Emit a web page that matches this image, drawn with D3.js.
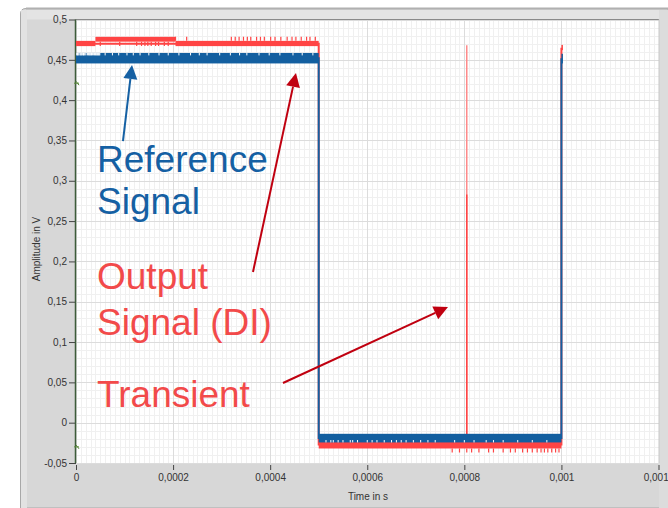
<!DOCTYPE html>
<html><head><meta charset="utf-8">
<script src="https://cdn.jsdelivr.net/npm/d3@7"></script>
<style>html,body{margin:0;padding:0;background:#fff;}svg{display:block;}</style>
</head><body>
<svg id="chart" width="668" height="508"></svg>
<script>
// ---- axis ticks ----
const xTicks = [0, 0.0002, 0.0004, 0.0006, 0.0008, 0.001, 0.0012];
const xTickLabels = ["0", "0,0002", "0,0004", "0,0006", "0,0008", "0,001", "0,0012"];
const yTicks = [-0.05, 0, 0.05, 0.1, 0.15, 0.2, 0.25, 0.3, 0.35, 0.4, 0.45, 0.5];
const yTickLabels = ["-0,05", "0", "0,05", "0,1", "0,15", "0,2", "0,25", "0,3", "0,35", "0,4", "0,45", "0,5"];

// ---- Reference signal (blue) ----
const refTime  = [0, 0.0005, 0.0005, 0.001, 0.001];
const refValue = [0.452, 0.452, -0.019, -0.019, 0.452];
const refBandStart = [0, 0.0005, 0.001];
const refBandEnd   = [0.0005, 0.001, 0.0010025];
const refBandLow   = [0.4455, -0.0245, 0.4455];
const refBandHigh  = [0.4585, -0.0138, 0.4575];
const refTopNotchTime = [1.5e-6, 3e-6, 4.2e-6, 6e-6, 8.5e-6, 10e-6, 11.8e-6, 13e-6, 15.5e-6, 16.2e-6, 18e-6, 20.4e-6, 23.5e-6, 26e-6, 27.3e-6, 29e-6, 30.5e-6, 32e-6, 33.8e-6, 36.4e-6, 38e-6, 40e-6, 41.5e-6, 43e-6, 44.6e-6, 46e-6, 47.5e-6, 49e-6,
  60e-6, 75e-6, 88e-6, 105e-6, 118e-6, 132e-6, 150e-6, 171e-6, 190e-6, 212e-6, 236e-6, 254e-6, 270e-6, 296e-6, 318e-6, 337e-6, 352e-6, 377e-6, 398e-6, 420e-6, 447e-6, 466e-6, 488e-6];
const refLowNotchTime = [515e-6, 525e-6, 530e-6, 540e-6, 550e-6, 565e-6, 570e-6, 580e-6, 600e-6, 610e-6, 620e-6, 635e-6, 650e-6, 660e-6, 670e-6, 680e-6, 695e-6, 710e-6, 725e-6, 740e-6, 780e-6, 800e-6, 820e-6, 845e-6, 860e-6, 880e-6, 910e-6, 940e-6, 970e-6];

// ---- Output signal DI (red) ----
const outTime  = [0, 0.0005, 0.0005, 0.001, 0.001];
const outValue = [0.47, 0.47, -0.027, -0.027, 0.465];
const outBandStart = [0, 0.00004, 0.000205, 0.0005, 0.001];
const outBandEnd   = [0.00004, 0.000205, 0.0005, 0.001, 0.0010015];
const outBandLow   = [0.467, 0.4725, 0.467, -0.032, 0.462];
const outBandHigh  = [0.4735, 0.4785, 0.4735, -0.022, 0.4685];
const outUpSpikeTime = [205e-6, 228e-6, 320e-6, 328e-6, 336e-6, 345e-6, 353e-6, 360e-6, 372e-6, 380e-6, 388e-6, 401e-6, 410e-6, 422e-6, 435e-6, 445e-6, 453e-6, 464e-6, 475e-6, 482e-6, 493e-6];
const outUpSpikeValue = 0.4785;
const outMidSpikeTime = [50e-6, 90e-6, 125e-6, 135e-6, 142e-6, 148e-6, 155e-6, 164e-6, 170e-6, 182e-6, 190e-6];
const outMidSpikeValue = 0.467;
const outLowSpikeTime = [775e-6, 790e-6, 805e-6, 815e-6, 830e-6, 850e-6, 860e-6, 880e-6, 895e-6, 905e-6, 920e-6, 930e-6, 940e-6, 950e-6, 958e-6, 965e-6, 972e-6, 980e-6, 988e-6, 995e-6];
const outLowSpikeValue = -0.037;

// ---- Transient ----
const transientTime = [0.000805];
const transientPeak = [0.468];
const transientSolidTop = [0.283];
const transientBase = [-0.022];

// ---- cursor markers at x=0 ----
const cursorValues = [0.421, -0.03];

// ---- annotations (data coordinates) ----
const labelTexts  = ["Reference", "Signal", "Output", "Signal (DI)", "Transient"];
const labelColors = ["#1560a3", "#1560a3", "#f24a4a", "#f24a4a", "#f24a4a"];
const labelTime   = [0.0000433, 0.0000433, 0.0000433, 0.0000433, 0.0000433];
const labelValue  = [0.311, 0.2588, 0.1658, 0.1087, 0.0194];
const arrowFromT = [0.0000968, 0.0003646, 0.0004264];
const arrowFromV = [0.3493, 0.1869, 0.0492];
const arrowToT   = [0.0001154, 0.0004532, 0.0007663];
const arrowToV   = [0.4436, 0.4337, 0.1435];
const arrowColors = ["#1560a3", "#c00010", "#c00010"];

const svg = d3.select("#chart");
const W = 668, H = 508;
const x = d3.scaleLinear().domain([0, 0.0012]).range([76, 658.5]);
const y = d3.scaleLinear().domain([-0.05, 0.5]).range([463, 19.5]);
const plotL = 76, plotR = 659, plotT = 19.5, plotB = 463;

// page frame / panel
svg.append("rect").attr("x", 0).attr("y", 0).attr("width", W).attr("height", H).attr("fill", "#fff");
svg.append("path")
  .attr("d", `M20.5,${H} L20.5,14 Q20.5,8.5 26,8.5 L${W},8.5 L${W},${H} Z`)
  .attr("fill", "#d7d7d7").attr("stroke", "#a8a8a8");
svg.append("rect").attr("x", 21).attr("y", 10).attr("width", W - 21).attr("height", 9.5).attr("fill", "#e4e4e4");
svg.append("line").attr("x1", 26).attr("x2", W).attr("y1", 8.5).attr("y2", 8.5).attr("stroke", "#b0b0b0").attr("stroke-width", 2);
svg.append("rect").attr("x", 21).attr("y", 10).attr("width", 6).attr("height", H - 10).attr("fill", "#e2e2e2");
svg.append("rect").attr("x", plotR).attr("y", 10).attr("width", W - plotR).attr("height", H - 10).attr("fill", "#dcdcdc");

// plot area
svg.append("rect").attr("x", plotL).attr("y", plotT).attr("width", plotR - plotL).attr("height", plotB - plotT).attr("fill", "#fff");

const grid = svg.append("g");
// minor grid
d3.range(0, 121).forEach(i => {
  const xx = Math.round(x(i * 0.00001)) + 0.5;
  if (xx < plotR) grid.append("line").attr("x1", xx).attr("x2", xx).attr("y1", plotT).attr("y2", plotB).attr("stroke", "#f0f0f0");
});
d3.range(-5, 51).forEach(i => {
  const yy = Math.round(y(i * 0.01)) + 0.5;
  grid.append("line").attr("x1", plotL).attr("x2", plotR).attr("y1", yy).attr("y2", yy).attr("stroke", "#f0f0f0");
});
// major grid
xTicks.forEach(t => {
  const xx = Math.round(x(t)) + 0.5;
  grid.append("line").attr("x1", xx).attr("x2", xx).attr("y1", plotT).attr("y2", plotB).attr("stroke", "#dcdcdc");
});
yTicks.forEach(v => {
  const yy = Math.round(y(v)) + 0.5;
  grid.append("line").attr("x1", plotL).attr("x2", plotR).attr("y1", yy).attr("y2", yy).attr("stroke", "#dcdcdc");
});

// plot borders
svg.append("line").attr("x1", plotL).attr("x2", plotR).attr("y1", plotT).attr("y2", plotT).attr("stroke", "#8a8a8a");
svg.append("line").attr("x1", plotR).attr("x2", plotR).attr("y1", plotT).attr("y2", plotB).attr("stroke", "#c8c8c8");

// axes
const xAxis = d3.axisBottom(x).tickValues(xTicks).tickFormat((d, i) => xTickLabels[i]).tickSize(5).tickPadding(4);
const yAxis = d3.axisLeft(y).tickValues(yTicks).tickFormat((d, i) => yTickLabels[i]).tickSize(7).tickPadding(2);
const gx = svg.append("g").attr("transform", `translate(0,${plotB + 2})`).call(xAxis);
const gy = svg.append("g").attr("transform", `translate(${plotL},0)`).call(yAxis);
[gx, gy].forEach(g => {
  g.select(".domain").remove();
  g.selectAll("line").attr("stroke", "#444");
  g.selectAll("text").attr("font-family", "Liberation Sans, Arial, sans-serif").attr("font-size", 10).attr("fill", "#333");
});
svg.append("line").attr("x1", plotL - 0.5).attr("x2", plotL - 0.5).attr("y1", plotT).attr("y2", plotB).attr("stroke", "#3d5c3a").attr("stroke-width", 1.5);

svg.append("text").attr("x", 368).attr("y", 500).attr("text-anchor", "middle")
  .attr("font-family", "Liberation Sans, Arial, sans-serif").attr("font-size", 10).attr("fill", "#333").text("Time in s");
svg.append("text").attr("transform", "translate(40,249) rotate(-90)").attr("text-anchor", "middle")
  .attr("font-family", "Liberation Sans, Arial, sans-serif").attr("font-size", 10).attr("fill", "#333").text("Amplitude in V");

// data layer, clipped
svg.append("clipPath").attr("id", "clip").append("rect").attr("x", plotL).attr("y", plotT).attr("width", plotR - plotL).attr("height", plotB - plotT);
const data = svg.append("g").attr("clip-path", "url(#clip)");
const line = d3.line().x(d => x(d[0])).y(d => y(d[1]));

const RED = "#ff4444", BLUE = "#135fa0";

// red series
data.append("path").datum(d3.zip(outTime, outValue)).attr("d", line).attr("fill", "none").attr("stroke", RED).attr("stroke-width", 2);
outBandStart.forEach((s, i) => {
  data.append("rect").attr("x", x(s)).attr("width", Math.max(1.5, x(outBandEnd[i]) - x(s)))
    .attr("y", y(outBandHigh[i])).attr("height", y(outBandLow[i]) - y(outBandHigh[i])).attr("fill", RED);
});
outUpSpikeTime.forEach(t => {
  data.append("line").attr("x1", x(t)).attr("x2", x(t)).attr("y1", y(0.4735)).attr("y2", y(outUpSpikeValue)).attr("stroke", RED).attr("stroke-width", 1.2);
});
outMidSpikeTime.forEach(t => {
  data.append("line").attr("x1", x(t)).attr("x2", x(t)).attr("y1", y(0.4725)).attr("y2", y(outMidSpikeValue)).attr("stroke", RED).attr("stroke-width", 1.2);
});
outLowSpikeTime.forEach(t => {
  data.append("line").attr("x1", x(t)).attr("x2", x(t)).attr("y1", y(-0.032)).attr("y2", y(outLowSpikeValue)).attr("stroke", RED).attr("stroke-width", 1.2);
});
// transient
transientTime.forEach((t, i) => {
  data.append("line").attr("x1", x(t)).attr("x2", x(t)).attr("y1", y(transientBase[i])).attr("y2", y(transientPeak[i]))
    .attr("stroke", "#ff8a8a").attr("stroke-width", 1.5);
  data.append("line").attr("x1", x(t)).attr("x2", x(t)).attr("y1", y(transientBase[i])).attr("y2", y(transientSolidTop[i]))
    .attr("stroke", RED).attr("stroke-width", 1.5);
});

// blue series
data.append("path").datum(d3.zip(refTime, refValue)).attr("d", line).attr("fill", "none").attr("stroke", BLUE).attr("stroke-width", 2);
refBandStart.forEach((s, i) => {
  data.append("rect").attr("x", x(s)).attr("width", Math.max(1.5, x(refBandEnd[i]) - x(s)))
    .attr("y", y(refBandHigh[i])).attr("height", y(refBandLow[i]) - y(refBandHigh[i])).attr("fill", BLUE);
});
refTopNotchTime.forEach(t => {
  data.append("line").attr("x1", x(t)).attr("x2", x(t)).attr("y1", y(0.4585)).attr("y2", y(0.4555)).attr("stroke", "#fff").attr("stroke-width", 1);
});
refLowNotchTime.forEach(t => {
  data.append("line").attr("x1", x(t)).attr("x2", x(t)).attr("y1", y(-0.0245)).attr("y2", y(-0.0215)).attr("stroke", "#fff").attr("stroke-width", 1);
});

// cursor markers
cursorValues.forEach(v => {
  const g = svg.append("g").attr("transform", `translate(${x(0)},${y(v)})`).attr("stroke", "#5a8a3a").attr("stroke-width", 1);
  g.append("line").attr("x1", -2).attr("x2", 3).attr("y1", 0).attr("y2", 0);
  g.append("line").attr("x1", 0).attr("x2", 3).attr("y1", -2).attr("y2", 2);
});

// annotations
labelTexts.forEach((txt, i) => {
  svg.append("text").attr("x", x(labelTime[i])).attr("y", y(labelValue[i]))
    .attr("font-family", "Liberation Sans, Arial, sans-serif").attr("font-size", 37)
    .attr("fill", labelColors[i]).text(txt);
});
arrowFromT.forEach((t, i) => {
  const x1 = x(t), y1 = y(arrowFromV[i]), x2 = x(arrowToT[i]), y2 = y(arrowToV[i]);
  const ang = Math.atan2(y2 - y1, x2 - x1);
  const L = 14, hw = 7;
  const bx = x2 - L * Math.cos(ang), by = y2 - L * Math.sin(ang);
  svg.append("line").attr("x1", x1).attr("y1", y1).attr("x2", bx).attr("y2", by).attr("stroke", arrowColors[i]).attr("stroke-width", 2);
  const px = -Math.sin(ang), py = Math.cos(ang);
  svg.append("path").attr("d", `M${x2},${y2} L${bx + px * hw},${by + py * hw} L${bx - px * hw},${by - py * hw} Z`).attr("fill", arrowColors[i]);
});
</script>
</body></html>
